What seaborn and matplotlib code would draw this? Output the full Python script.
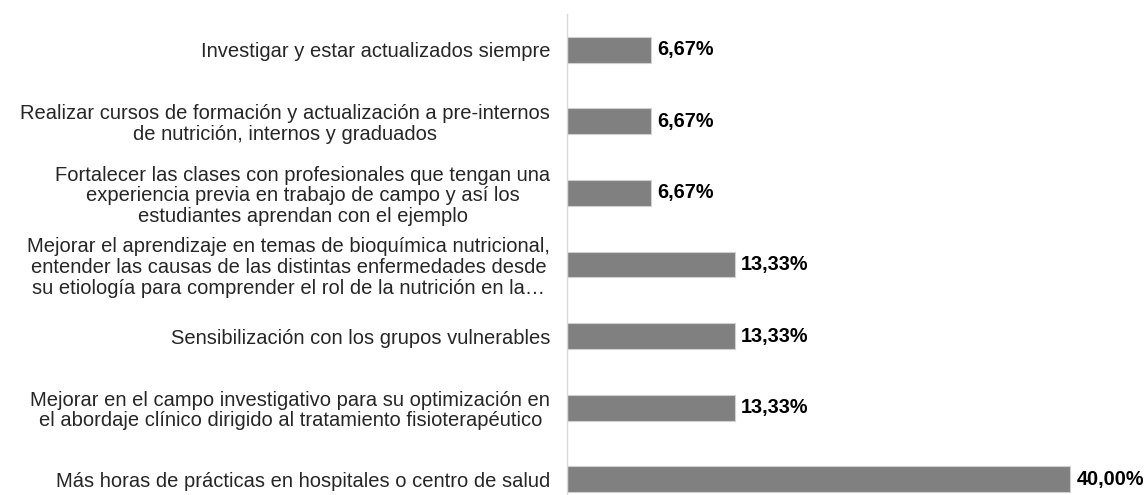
import matplotlib
matplotlib.use("Agg")
import matplotlib.pyplot as plt
import seaborn as sns
import pandas as pd

# Categories top to bottom, as in the chart
categories = [
    "Investigar y estar actualizados siempre",
    "Realizar cursos de formación y actualización a pre-internos\nde nutrición, internos y graduados",
    "Fortalecer las clases con profesionales que tengan una\nexperiencia previa en trabajo de campo y así los\nestudiantes aprendan con el ejemplo",
    "Mejorar el aprendizaje en temas de bioquímica nutricional,\nentender las causas de las distintas enfermedades desde\nsu etiología para comprender el rol de la nutrición en la…",
    "Sensibilización con los grupos vulnerables",
    "Mejorar en el campo investigativo para su optimización en\nel abordaje clínico dirigido al tratamiento fisioterapéutico",
    "Más horas de prácticas en hospitales o centro de salud",
]
percentages = [6.67, 6.67, 6.67, 13.33, 13.33, 13.33, 40.00]
value_labels = ["6,67%", "6,67%", "6,67%", "13,33%", "13,33%", "13,33%", "40,00%"]

df = pd.DataFrame({"categoria": categories, "porcentaje": percentages})

sns.set_style("white")
plt.rcParams["font.family"] = ["Liberation Sans", "DejaVu Sans"]

fig = plt.figure(figsize=(11.47, 4.95), dpi=100)
ax = fig.add_axes([567 / 1147, 0.0, 1 - 567 / 1147, (495 - 14) / 495])

sns.barplot(data=df, x="porcentaje", y="categoria", orient="h", color="#808080",
            saturation=1, width=0.36, edgecolor="#d0d0d0", linewidth=0.8, ax=ax)

# value labels next to each bar
for i, (v, lab) in enumerate(zip(percentages, value_labels)):
    ax.text(v + 0.5, i, lab, va="center", ha="left", fontsize=14.3,
            fontweight="bold", color="black")

ax.set_xlim(0, 46.1)
ax.set_ylim(6.22, -0.5)
ax.set_xlabel("")
ax.set_ylabel("")
ax.set_xticks([])
ax.tick_params(axis="y", length=0, pad=12, labelsize=14.5)
for lab in ax.get_yticklabels():
    lab.set_multialignment("center")
    lab.set_linespacing(1.12)

for side in ["top", "right", "bottom"]:
    ax.spines[side].set_visible(False)
ax.spines["left"].set_color("#d9d9d9")
ax.spines["left"].set_linewidth(1)

fig.savefig("out.png", dpi=100, facecolor="white")
